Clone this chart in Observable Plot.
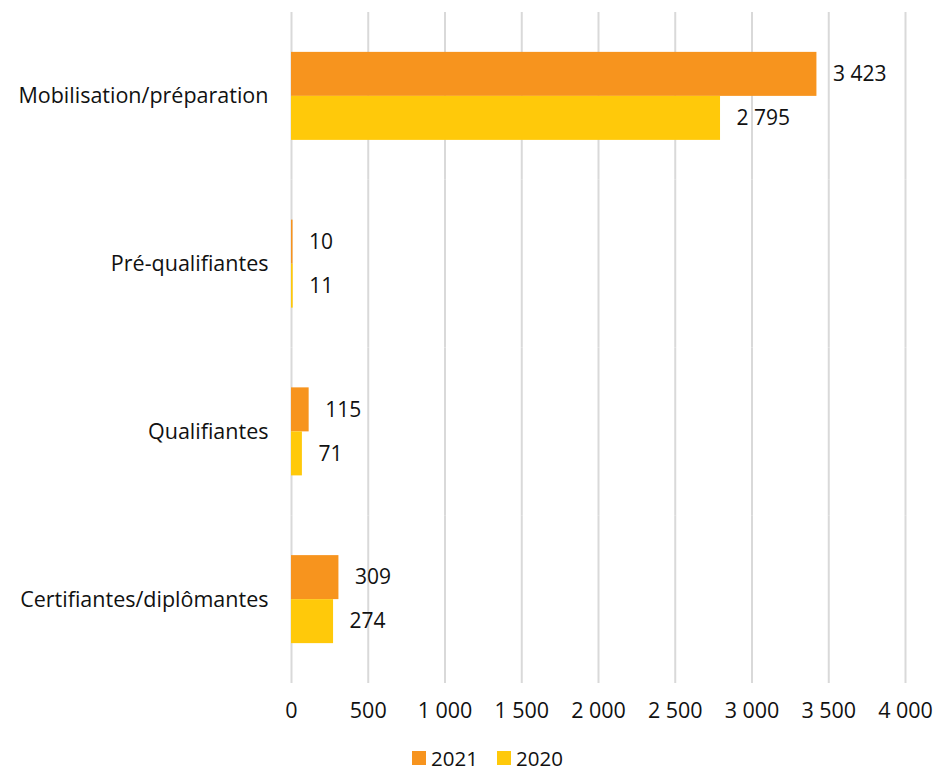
<!DOCTYPE html>
<html>
<head>
<meta charset="utf-8">
<script src="https://cdn.jsdelivr.net/npm/d3@7"></script>
<script src="https://cdn.jsdelivr.net/npm/@observablehq/plot@0.6"></script>
<style>
  body { margin: 0; background: #fff; font-family: "Open Sans", sans-serif; }
  #chart { width: 935px; height: 736px; }
  #chart svg { display: block; }
  .legend { display: flex; justify-content: center; align-items: center; gap: 19px; font-size: 20.5px; line-height: 28px; color: #111; padding-left: 40px; margin-top: 8px; }
  .legend span.item { display: flex; align-items: center; gap: 5px; }
  .legend span.sw { display: inline-block; width: 14px; height: 14px; }
</style>
</head>
<body>
<div id="chart"></div>
<script>
const categories = ["Mobilisation/préparation", "Pré-qualifiantes", "Qualifiantes", "Certifiantes/diplômantes"];
const years = ["2021", "2020"];
const values2021 = [3423, 10, 115, 309];
const values2020 = [2795, 11, 71, 274];
const xTicks = [0, 500, 1000, 1500, 2000, 2500, 3000, 3500, 4000];
const colors = ["#F7941E", "#FFC90A"];

const fr = d3.formatLocale({decimal: ",", thousands: " ", grouping: [3], currency: ["", " €"]});
const fmt = fr.format(",d");

const data = [];
categories.forEach((c, i) => {
  data.push({category: c, year: "2021", value: values2021[i]});
  data.push({category: c, year: "2020", value: values2020[i]});
});

const chart = Plot.plot({
  width: 935,
  height: 736,
  marginLeft: 291,
  marginRight: 30,
  marginTop: 12,
  marginBottom: 53,
  style: {fontFamily: "Open Sans, sans-serif", fontSize: "21.5px", color: "#111", background: "#fff"},
  x: {domain: [0, 4000], ticks: xTicks, tickFormat: fmt, label: null, tickSize: 0, tickPadding: 19},
  fy: {domain: categories, padding: 0, round: false, label: null, tickSize: 0, tickPadding: 23, axis: "left"},
  y: {domain: years, paddingInner: 0, paddingOuter: 0.906, round: false, axis: null},
  color: {domain: years, range: colors},
  marks: [
    Plot.gridX(xTicks, {stroke: "#d9d9d9", strokeOpacity: 1, strokeWidth: 2}),
    Plot.barX(data, {fy: "category", y: "year", x: "value", fill: "year"}),
    Plot.text(data, {fy: "category", y: "year", x: "value", text: d => fmt(d.value), textAnchor: "start", dx: 16, fill: "#111", fontSize: 21})
  ]
});
document.getElementById("chart").appendChild(chart);

const legend = document.createElement("div");
legend.className = "legend";
years.forEach((y, i) => {
  const item = document.createElement("span");
  item.className = "item";
  const sw = document.createElement("span");
  sw.className = "sw";
  sw.style.background = colors[i];
  const t = document.createElement("span");
  t.textContent = y;
  item.appendChild(sw);
  item.appendChild(t);
  legend.appendChild(item);
});
document.body.appendChild(legend);
</script>
</body>
</html>
